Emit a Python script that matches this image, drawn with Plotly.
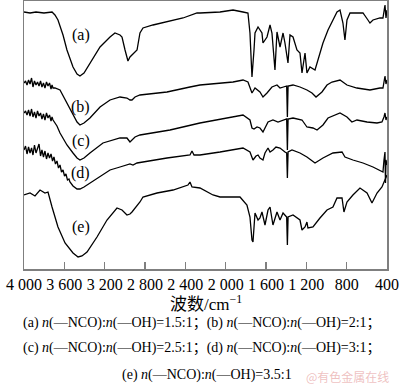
import plotly.graph_objects as go

# Wavenumbers (cm^-1) and relative transmittance (arbitrary, offset)
wn_a = [4000, 3940, 3881, 3802, 3722, 3693, 3663, 3613, 3574, 3514, 3474, 3445, 3405, 3346, 3246, 3147, 3098, 3048, 3028, 2998,
        2979, 2969, 2949, 2929, 2899, 2879, 2850, 2820, 2721, 2582, 2423, 2284, 2255, 2056, 1927, 1828, 1779, 1759, 1739, 1719,
        1709, 1679, 1640, 1630, 1590, 1560, 1541, 1511, 1491, 1461, 1431, 1412, 1382, 1362, 1332, 1293, 1263, 1243, 1213, 1194,
        1164, 1114, 1084, 1035, 985, 936, 896, 866, 837, 817, 797, 767, 698, 638, 589, 569, 539, 470, 440, 430,
        420, 410, 400]
t_a = [257, 256, 257, 256, 257, 254, 249, 234, 219, 202, 195, 193, 196, 206, 222, 232, 236, 234, 232, 219,
       211, 208, 212, 214, 216, 219, 236, 241, 244, 247, 251, 256, 256, 257, 259, 257, 256, 236, 192, 219,
       236, 242, 236, 226, 232, 244, 236, 199, 237, 222, 236, 226, 206, 234, 232, 219, 216, 196, 216, 196,
       202, 199, 209, 226, 239, 249, 257, 259, 246, 229, 249, 256, 256, 256, 249, 246, 249, 251, 251, 257,
       264, 251, 259]

wn_b = [4000, 3985, 3970, 3955, 3940, 3925, 3911, 3896, 3881, 3866, 3851, 3836, 3822, 3807, 3792, 3777, 3762, 3747, 3732, 3722,
        3712, 3693, 3643, 3574, 3514, 3474, 3445, 3405, 3346,
        3246, 3147, 3048, 2979, 2949, 2929, 2899, 2850, 2582, 2354, 2255, 1927, 1828, 1779, 1739, 1709, 1660, 1630, 1590, 1541,
        1491, 1461, 1412, 1395, 1388, 1381, 1332, 1263, 1194, 1144, 1104, 1045, 995, 946, 866, 797, 698, 569, 470, 440,
        430, 420, 410, 400]
t_b = [186, 188, 184, 189, 185, 191, 182, 188, 184, 187, 183, 188, 182, 186, 181, 187, 183, 186, 180, 184,
       181, 181, 179, 166, 154, 147, 144, 146, 151,
       162, 169, 172, 171, 169, 169, 172, 174, 177, 182, 184, 187, 189, 187, 176, 181, 177, 172, 176, 182,
       184, 181, 182, 183, 152, 183, 184, 182, 179, 176, 172, 177, 184, 187, 189, 184, 181, 179, 181, 181,
       187, 193, 185, 189]

wn_c = [4000, 3985, 3970, 3955, 3940, 3925, 3911, 3896, 3881, 3866, 3851, 3836, 3822, 3807, 3792, 3777, 3762, 3747, 3732, 3722,
        3712, 3693, 3673, 3643, 3574, 3514, 3474, 3445, 3405, 3346, 3217,
        3048, 2979, 2949, 2899, 2850, 2552, 2255, 1828, 1759, 1739, 1719, 1689, 1660, 1630, 1580, 1531, 1481, 1431, 1395, 1388,
        1381, 1332, 1243, 1194, 1134, 1094, 1035, 985, 916, 866, 797, 748, 698, 598, 499, 450, 430, 420, 410, 400]
t_c = [156, 158, 154, 159, 153, 160, 152, 157, 151, 158, 153, 156, 150, 155, 149, 156, 151, 154, 148, 152,
       149, 146, 143, 136, 124, 116, 111, 109, 111, 116, 126,
       131, 131, 127, 132, 134, 139, 146, 154, 149, 141, 140, 142, 141, 137, 147, 149, 147, 149, 150, 119,
       150, 151, 149, 142, 141, 139, 144, 151, 154, 156, 152, 147, 149, 147, 146, 147, 152, 156, 149, 152]

wn_d = [4000, 3985, 3970, 3955, 3940, 3925, 3911, 3896, 3881, 3866, 3851, 3836, 3822, 3807, 3792, 3777, 3762, 3747, 3732, 3717,
        3703, 3688, 3673, 3658, 3643, 3628, 3613, 3598, 3584, 3569, 3554, 3544,
        3514, 3474, 3445, 3405, 3346, 3246, 3147, 3048, 2949, 2919, 2879, 2820, 2582, 2354, 2334, 2314,
        2255, 2056, 1828, 1759, 1729, 1699, 1679, 1660, 1630, 1610, 1580, 1560, 1531, 1501, 1461, 1412, 1395, 1388, 1381, 1342,
        1263, 1194, 1114, 1035, 936, 846, 817, 738, 638, 539, 470, 440, 430, 420, 415, 410, 400]
t_d = [119, 123, 115, 122, 116, 121, 114, 124, 116, 120, 125, 113, 119, 112, 118, 110, 116, 111, 115, 108,
       112, 105, 108, 101, 104, 97, 99, 93, 95, 89, 90, 87,
       83, 80, 80, 82, 86, 92, 99, 102, 105, 104, 106, 107, 111, 114, 118, 114,
       114, 117, 121, 117, 109, 113, 114, 111, 109, 116, 121, 117, 119, 122, 121, 117, 116, 91, 117, 119,
       116, 112, 106, 111, 116, 117, 112, 109, 106, 102, 99, 97, 109, 117, 86, 109, 104]

wn_e = [4000, 3940, 3891, 3841, 3792, 3762, 3722, 3663, 3593, 3514, 3464, 3425, 3375, 3276, 3177, 3078, 3028, 2979, 2949, 2929,
        2850, 2820, 2681, 2522, 2374, 2354, 2334, 2284, 2255, 2126, 2056, 1858, 1789, 1759, 1739, 1729, 1709, 1679, 1660, 1640,
        1610, 1580, 1560, 1531, 1491, 1461, 1431, 1395, 1388, 1381, 1332, 1263, 1243, 1213, 1194, 1184, 1134, 1065, 995, 936,
        896, 846, 827, 797, 738, 668, 598, 549, 499, 450, 420, 400]
t_e = [74, 76, 73, 79, 76, 77, 62, 42, 26, 16, 12, 13, 17, 32, 49, 61, 59, 54, 55, 57,
       67, 72, 76, 79, 84, 87, 82, 81, 81, 74, 72, 72, 64, 52, 29, 27, 56, 49, 51, 57,
       44, 59, 62, 44, 57, 49, 56, 52, 24, 52, 54, 49, 39, 42, 47, 41, 42, 51, 59, 62,
       71, 71, 57, 67, 74, 81, 76, 66, 76, 82, 89, 94]

series = [(wn_a, t_a), (wn_b, t_b), (wn_c, t_c), (wn_d, t_d), (wn_e, t_e)]
curve_labels = ["(a)", "(b)", "(c)", "(d)", "(e)"]
label_wn = [3435, 3435, 3435, 3435, 3435]
label_t = [234, 162, 128, 96, 42]

tick_vals = [4000, 3600, 3200, 2800, 2400, 2000, 1600, 1200, 800, 400]
tick_text = ["4 000", "3 600", "3 200", "2 800", "2 400", "2 000", "1 600", "1 200", "800", "400"]

captions = [
    "(a) <i>n</i>(—NCO):<i>n</i>(—OH)=1.5:1；(b) <i>n</i>(—NCO):<i>n</i>(—OH)=2:1；",
    "(c) <i>n</i>(—NCO):<i>n</i>(—OH)=2.5:1；(d) <i>n</i>(—NCO):<i>n</i>(—OH)=3:1；",
    "(e) <i>n</i>(—NCO):<i>n</i>(—OH)=3.5:1",
]

SERIF = "Liberation Serif, Times New Roman, Noto Sans CJK SC, serif"

fig = go.Figure()
for wn, t in series:
    fig.add_trace(go.Scatter(x=wn, y=t, mode="lines",
                             line=dict(color="black", width=1.3),
                             showlegend=False, hoverinfo="skip"))

annotations = []
for lab, xw, yt in zip(curve_labels, label_wn, label_t):
    annotations.append(dict(x=xw, y=yt, xref="x", yref="y", text=lab, showarrow=False,
                            font=dict(family=SERIF, size=16, color="black")))

W, H = 400, 387
L, R, T, B = 24, 13, 1, 118
pw = W - L - R
ph = H - T - B

def px_to_paper(px, py):
    return (px - L) / pw, (H - B - py) / ph

ax, ay = px_to_paper(206, 303)
annotations.append(dict(x=ax, y=ay, xref="paper", yref="paper", text="波数/cm<sup>−1</sup>",
                        showarrow=False, yanchor="middle",
                        font=dict(family=SERIF, size=17, color="black")))
for txt, (cx, cy) in zip(captions, [(202, 323), (202, 348), (207, 375)]):
    x_, y_ = px_to_paper(cx, cy)
    annotations.append(dict(x=x_, y=y_, xref="paper", yref="paper", text=txt,
                            showarrow=False, yanchor="middle",
                            font=dict(family=SERIF, size=14, color="black")))
wx, wy = px_to_paper(304, 376)
annotations.append(dict(x=wx, y=wy, xref="paper", yref="paper", text="@有色金属在线",
                        showarrow=False, xanchor="left", yanchor="middle",
                        font=dict(family="Noto Sans CJK SC", size=12, color="rgba(225,140,140,0.55)")))

fig.update_layout(
    template="none",
    width=W, height=H,
    margin=dict(l=L, r=R, t=T, b=B, pad=0, autoexpand=False),
    paper_bgcolor="white", plot_bgcolor="white",
    annotations=annotations,
    xaxis=dict(range=[4000, 400], showgrid=False, zeroline=False, automargin=False,
               showline=True, mirror=True, linecolor="#7f7f7f", linewidth=1.5,
               ticks="inside", ticklen=7, tickcolor="#7f7f7f", tickwidth=1.2,
               tickvals=tick_vals, ticktext=tick_text,
               tickfont=dict(family=SERIF, size=16, color="black")),
    yaxis=dict(range=[0, 268], showgrid=False, zeroline=False, automargin=False,
               showline=True, mirror=True, linecolor="#7f7f7f", linewidth=1.5,
               showticklabels=False, ticks=""),
)

fig.write_html("out.html",
               config={"displayModeBar": False, "staticPlot": True},
               post_script="document.body.style.margin='0';document.body.style.overflow='hidden';")
